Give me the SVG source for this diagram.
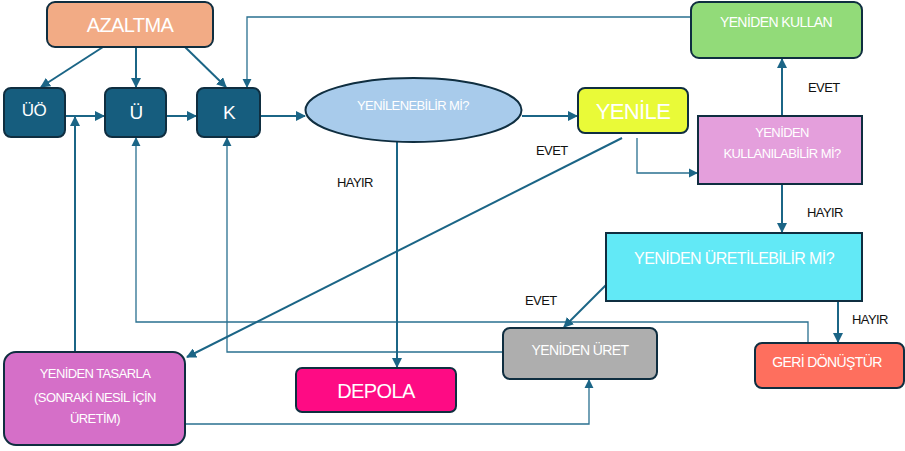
<svg xmlns="http://www.w3.org/2000/svg" width="905" height="451" viewBox="0 0 905 451">
<style>
text{font-family:"Liberation Sans",Arial,sans-serif;text-anchor:middle;dominant-baseline:central;fill:#fff;letter-spacing:-0.6px}
.lbl{fill:#111;font-size:13px;text-anchor:start}
.nd{stroke:#0f2e40;stroke-width:2}
.c{fill:none;stroke:#1b6586;stroke-width:2}
.t{fill:none;stroke:#2a7090;stroke-width:1.3}
</style>
<defs>
<marker id="a" viewBox="0 0 10 10" refX="9" refY="5" markerWidth="5" markerHeight="5" orient="auto" markerUnits="strokeWidth"><path d="M0,0 L10,5 L0,10 z" fill="#1b6586"/></marker>
<marker id="b" viewBox="0 0 10 10" refX="9" refY="5" markerWidth="7" markerHeight="7" orient="auto" markerUnits="strokeWidth"><path d="M0,0 L10,5 L0,10 z" fill="#1b6586"/></marker>
</defs>
<g id="connectors">
<line class="c" x1="103" y1="47" x2="41" y2="87" marker-end="url(#a)"/>
<line class="c" x1="136" y1="47" x2="136" y2="87" marker-end="url(#a)"/>
<line class="c" x1="185" y1="47" x2="226" y2="87" marker-end="url(#a)"/>
<polyline class="t" points="691,17 247,17 247,87" marker-end="url(#b)"/>
<line class="c" x1="65" y1="116" x2="104" y2="116" marker-end="url(#a)"/>
<line class="c" x1="166" y1="116" x2="196" y2="116" marker-end="url(#a)"/>
<line class="c" x1="260" y1="116" x2="305" y2="116" marker-end="url(#a)"/>
<line class="c" x1="522" y1="116" x2="577" y2="116" marker-end="url(#a)"/>
<line class="c" x1="75" y1="352" x2="75" y2="117" marker-end="url(#a)"/>
<polyline class="t" points="808,343 808,322 136,322 136,138" marker-end="url(#b)"/>
<polyline class="t" points="503,352 227,352 227,138" marker-end="url(#b)"/>
<line class="c" x1="397" y1="142" x2="397" y2="367" marker-end="url(#a)"/>
<line class="c" x1="622" y1="138" x2="187" y2="357" marker-end="url(#a)"/>
<polyline class="t" points="637,138 637,173 697,173" marker-end="url(#b)"/>
<line class="c" x1="782" y1="116" x2="782" y2="59" marker-end="url(#a)"/>
<line class="c" x1="782" y1="184" x2="782" y2="232" marker-end="url(#a)"/>
<line class="c" x1="606" y1="285" x2="564" y2="327" marker-end="url(#a)"/>
<line class="c" x1="838" y1="301" x2="838" y2="342" marker-end="url(#a)"/>
<polyline class="t" points="185,424 589,424 589,380" marker-end="url(#b)"/>
</g>
<g id="azaltma"><rect class="nd" x="47" y="2" width="166" height="45" rx="8" fill="#f2ab85" stroke="none"/><text x="130" y="25" font-size="20">AZALTMA</text></g>
<g id="uo"><rect class="nd" x="4" y="88" width="61" height="49" rx="7" fill="#165d7e"/><text x="34" y="110" font-size="17">ÜÖ</text></g>
<g id="u"><rect class="nd" x="105" y="88" width="61" height="49" rx="7" fill="#165d7e"/><text x="136" y="112" font-size="19">Ü</text></g>
<g id="k"><rect class="nd" x="197" y="88" width="63" height="49" rx="7" fill="#165d7e"/><text x="229" y="112" font-size="19">K</text></g>
<g id="yenilenebilir"><ellipse class="nd" cx="413.5" cy="110" rx="108" ry="32" fill="#a8cbeb"/><text x="413" y="105" font-size="13">YENİLENEBİLİR Mİ?</text></g>
<g id="yenile"><rect class="nd" x="578" y="88" width="110" height="45" rx="7" fill="#e9fa38"/><text x="633" y="111" font-size="22">YENİLE</text></g>
<g id="yeniden-kullan"><rect class="nd" x="691" y="2" width="171" height="56" rx="8" fill="#92db79"/><text x="776" y="22" font-size="14">YENİDEN KULLAN</text></g>
<g id="kullanilabilir"><rect class="nd" x="698" y="116" width="164" height="68" fill="#e49fdc"/><text x="782" y="132" font-size="13">YENİDEN</text><text x="782" y="153" font-size="13">KULLANILABİLİR Mİ?</text></g>
<g id="uretilebilir"><rect class="nd" x="606" y="233" width="256" height="68" fill="#62e9f6"/><text x="734" y="258" font-size="16">YENİDEN ÜRETİLEBİLİR Mİ?</text></g>
<g id="yeniden-uret"><rect class="nd" x="503" y="328" width="154" height="51" rx="7" fill="#aeaeae"/><text x="580" y="350" font-size="14">YENİDEN ÜRET</text></g>
<g id="geri-donustur"><rect class="nd" x="755" y="343" width="149" height="45" rx="7" fill="#fe6f5e"/><text x="827" y="362" font-size="14">GERİ DÖNÜŞTÜR</text></g>
<g id="yeniden-tasarla"><rect class="nd" x="4" y="352" width="181" height="93" rx="12" fill="#d56fc8"/><text x="95" y="373" font-size="13">YENİDEN TASARLA</text><text x="95" y="397" font-size="13">(SONRAKİ NESİL İÇİN</text><text x="95" y="418" font-size="13">ÜRETİM)</text></g>
<g id="depola"><rect class="nd" x="296" y="368" width="160" height="44" rx="6" fill="#fe0b84"/><text x="376" y="391" font-size="20">DEPOLA</text></g>
<g id="labels">
<text class="lbl" x="536" y="150">EVET</text>
<text class="lbl" x="337" y="182">HAYIR</text>
<text class="lbl" x="808" y="87">EVET</text>
<text class="lbl" x="807" y="212">HAYIR</text>
<text class="lbl" x="525" y="300">EVET</text>
<text class="lbl" x="852" y="319">HAYIR</text>
</g>
</svg>
